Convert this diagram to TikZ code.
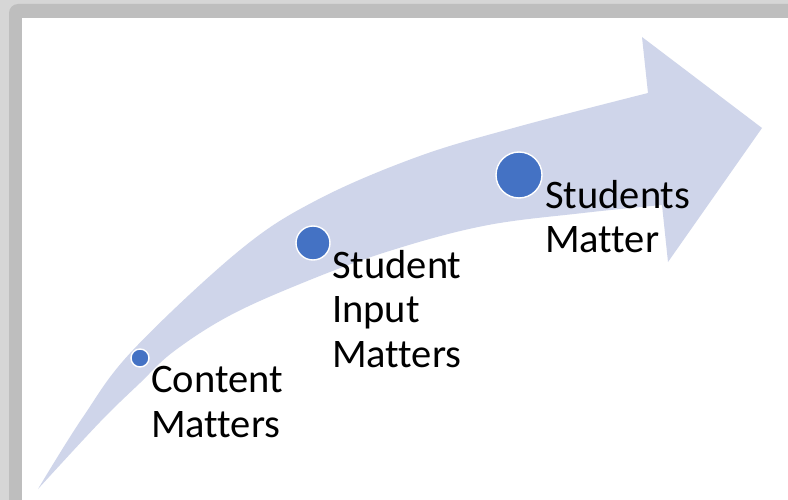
\documentclass[tikz,border=0pt]{standalone}
\usepackage{fontspec}
\setmainfont{Carlito}[Ligatures=CommonOff]
\definecolor{frameouter}{HTML}{D6D6D6}
\definecolor{frameinner}{HTML}{BEBEBE}
\definecolor{arrowfill}{HTML}{CFD5EA}
\definecolor{dotblue}{HTML}{4472C4}
\begin{document}
\begin{tikzpicture}[x=1pt,y=-1pt,
  dot/.style={circle,fill=dotblue,draw=white,line width=1.4pt,inner sep=0pt},
  label/.style={anchor=base west,inner sep=0pt,align=left,
    font=\fontsize{40.5}{44.5}\selectfont}]
  \useasboundingbox (0,0) rectangle (788,500);
  % window frame
  \fill[frameouter] (0,0) rectangle (788,500);
  \fill[frameinner,rounded corners=9pt] (9,4) rectangle (820,530);
  \fill[white] (22,18) rectangle (820,530);
  % curved arrow: upper edge, head, lower edge back to the tail
  \fill[arrowfill]
    plot[smooth,tension=0.6] coordinates {(38,489) (83,417) (133,350) (240,250) (317,200) (417,157) (517,127) (648,93)}
    -- (642,37) -- (762,128) -- (668,262) -- (662,205)
    -- plot[smooth,tension=0.6] coordinates {(662,205) (583,213) (483,226) (383,253) (295,286) (227,317) (173,352) (140,383) (100,422) (38,489)}
    -- cycle;
  % milestones
  \node[dot,minimum size=18pt] (d1) at (140,358) {};
  \node[dot,minimum size=34pt] (d2) at (313,243) {};
  \node[dot,minimum size=46pt] (d3) at (519,175) {};
  % the base anchor sits on the last line
  \node[label] (t1) at (151,437) {Content\\Matters};
  \node[label] (t2) at (332,367) {Student\\Input\\Matters};
  \node[label] (t3) at (545,253) {Students\\Matter};
\end{tikzpicture}
\end{document}
